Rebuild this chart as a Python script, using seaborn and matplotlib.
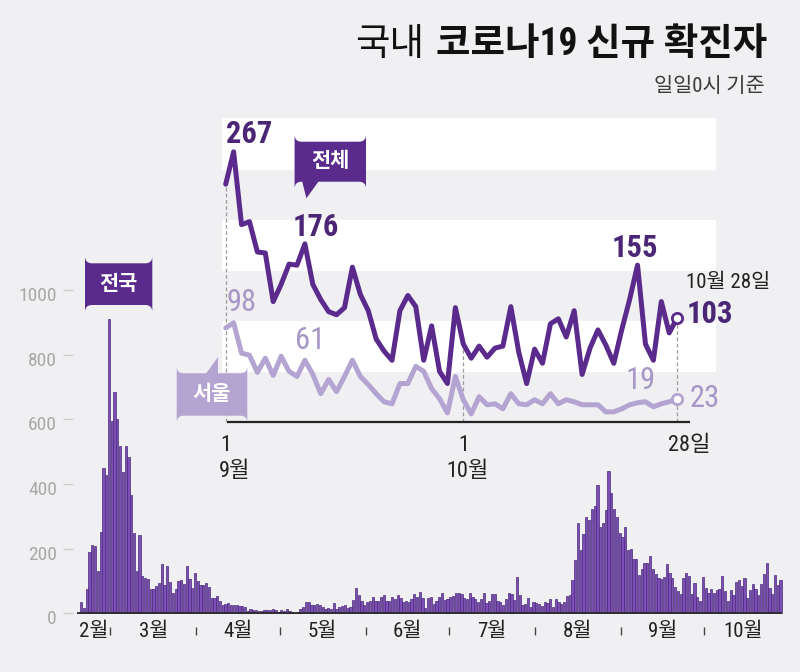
import matplotlib
matplotlib.use("Agg")
import numpy as np
import matplotlib.pyplot as plt
from matplotlib import font_manager as fm
from matplotlib.patches import FancyBboxPatch, Polygon
from matplotlib.transforms import Affine2D
import seaborn as sns

sns.set_style("white")

# narrow face for the digits if one is around, Hangul from Noto CJK
_installed = {f.name for f in fm.fontManager.ttflist}
_narrow = [n for n in ["Liberation Sans Narrow", "Roboto Condensed", "Archivo Narrow",
                       "PT Sans Narrow", "Arial Narrow"] if n in _installed][:1]
plt.rcParams["font.family"] = _narrow + ["Noto Sans CJK KR", "DejaVu Sans"]

# daily new confirmed cases (0시 기준), 2/18 ~ 10/28
feb = [1, 34, 16, 74, 190, 210, 207, 130, 253, 449, 427, 909]
mar = [595, 686, 600, 516, 438, 518, 483, 367, 248, 131, 242, 114, 110, 107, 76, 74,
       84, 93, 152, 87, 147, 98, 64, 76, 100, 104, 91, 146, 105, 78, 125]
apr = [101, 89, 86, 94, 81, 47, 47, 53, 39, 27, 30, 32, 25, 27, 27, 22, 22, 18, 8, 13,
       9, 11, 8, 6, 10, 10, 10, 14, 9, 4]
may = [9, 6, 13, 8, 3, 2, 4, 12, 18, 34, 35, 27, 26, 29, 27, 19, 13, 15, 13, 32, 12,
       20, 23, 25, 16, 19, 40, 79, 58, 39, 27]
jun = [35, 38, 49, 39, 39, 51, 57, 38, 38, 50, 45, 56, 48, 34, 37, 34, 43, 59, 49, 67,
       48, 17, 46, 51, 28, 39, 51, 62, 42, 43]
jul = [51, 54, 63, 63, 61, 48, 44, 63, 50, 45, 35, 44, 62, 33, 39, 61, 60, 39, 34, 26,
       45, 63, 59, 41, 113, 58, 25, 28, 48, 18, 36]
aug = [31, 30, 23, 34, 33, 43, 20, 43, 36, 28, 34, 54, 56, 103, 166, 279, 197, 246, 297,
       288, 324, 332, 397, 266, 280, 320, 441, 371, 323, 299, 248]
sep = [235, 267, 195, 198, 168, 167, 119, 136, 156, 155, 176, 136, 121, 109, 106, 113,
       153, 126, 110, 82, 70, 61, 110, 125, 114, 61, 95, 50, 38, 113]
oct_ = [77, 63, 75, 64, 73, 75, 114, 69, 38, 72, 58, 97, 102, 84, 110, 47, 73, 91, 76,
        58, 91, 121, 155, 77, 61, 119, 88, 103]

# Seoul, 9/1 ~ 10/28
seoul_sep = [93, 98, 68, 66, 49, 63, 46, 65, 50, 45, 61, 47, 28, 42, 30, 45, 61, 45, 37,
             28, 20, 18, 38, 38, 55, 50, 33, 23, 9, 45]
seoul_oct = [22, 8, 25, 17, 18, 13, 28, 18, 17, 22, 18, 28, 18, 22, 20, 17, 17, 17, 10,
             10, 13, 17, 19, 20, 15, 18, 20, 23]

months = [feb, mar, apr, may, jun, jul, aug, sep, oct_]
month_labels = ["2월", "3월", "4월", "5월", "6월", "7월", "8월", "9월", "10월"]
y_ticks = [0, 200, 400, 600, 800, 1000]

BG = "#f0f0f2"
BAR = "#7c4fb5"
BAR_EDGE = "#4c2a7a"
TOTAL = "#5a2b8c"
TOTAL_TXT = "#4b2676"
SEOUL = "#b4a4d1"
SEOUL_TXT = "#a697c6"
DARK = "#222222"

W, H = 800, 672
fig = plt.figure(figsize=(W / 100, H / 100), dpi=100, facecolor=BG)
PX = Affine2D().scale(1 / W, -1 / H).translate(0, 1) + fig.transFigure

# ---- main bar chart (whole figure, pixel-calibrated limits) ----
X0, DAY = 78.5, 2.775
Y0, UNIT = 613.3, 0.3233


def xi(px):
    return (px - X0) / DAY


def yv(py):
    return (Y0 - py) / UNIT


daily = np.concatenate([np.array(m) for m in months])
idx = np.arange(len(daily))

ax = fig.add_axes([0, 0, 1, 1])
sns.barplot(x=idx, y=daily, native_scale=True, color=BAR, edgecolor=BAR_EDGE,
            linewidth=0.5, width=0.8, saturation=1, ax=ax)
ax.set_xlim(xi(0), xi(W))
ax.set_ylim(yv(H), yv(0))
ax.axis("off")

ax.hlines(0, -0.6, len(daily) - 0.4, color="#2a2a2a", lw=1.3)
for v in y_ticks:
    ax.hlines(v, xi(62.7), xi(72.7), color="#cdcdcd", lw=1)
    ax.text(xi(57), v - 6 / UNIT, str(v), ha="right", va="center",
            color="#a9a9a9", fontsize=14)

bounds = np.cumsum([0] + [len(m) for m in months])
ax.vlines(bounds[1:-1] - 0.5, yv(635), yv(627), color="#444444", lw=1)
for k, lab in enumerate(month_labels):
    ax.text((bounds[k] + bounds[k + 1] - 1) / 2, yv(631), lab, ha="center",
            va="center", color=DARK, fontsize=15)

# ---- inset: September - October ----
total = np.array(sep + oct_)
seoul = np.array(seoul_sep + seoul_oct)
days = np.arange(len(total))
SEP1, DPX = 225.7, 7.92

ins = fig.add_axes([222 / W, 1 - 422 / H, (716 - 222) / W, (422 - 118.4) / H])
ins.set_xlim((222 - SEP1) / DPX, (716 - SEP1) / DPX)
ins.set_ylim(0, 300)
ins.patch.set_alpha(0)
ins.axis("off")
for lo in (50, 150, 250):
    ins.axhspan(lo, lo + 50, color="white", zorder=0)

last = len(total) - 1
ins.vlines([0, 30, last], 0, [total[0], total[30], total[last]], colors="#9c9c9c",
           linestyles=(0, (3, 2)), lw=0.9, zorder=1)
ins.hlines(0, 0.14, 58.6, color=DARK, lw=1.6, clip_on=False, zorder=2)

sns.lineplot(x=days, y=seoul, color=SEOUL, lw=3.6, ax=ins, zorder=3)
sns.lineplot(x=days, y=total, color=TOTAL, lw=3.6, ax=ins, zorder=4)
ins.scatter([last], [total[last]], s=55, facecolor="white", edgecolor=TOTAL, lw=2,
            zorder=6, clip_on=False)
ins.scatter([last], [seoul[last]], s=55, facecolor="white", edgecolor=SEOUL, lw=2,
            zorder=6, clip_on=False)
ins.set_xlabel("")
ins.set_ylabel("")

NUM = 22 if _narrow else 19


def note(i, series, text, dx, dy, color, weight="bold", ha="center", size=NUM):
    ins.annotate(text, (i, series[i]), xytext=(dx, dy), textcoords="offset points",
                 ha=ha, va="center", color=color, fontsize=size, fontweight=weight,
                 annotation_clip=False)


note(1, total, "267", 10.9, 12.8, TOTAL_TXT)
note(10, total, "176", 7.6, 12.5, TOTAL_TXT)
note(52, total, "155", -1.8, 12, TOTAL_TXT)
note(last, total, "103", 6.5, 2.7, TOTAL_TXT, ha="left")
note(last, total, "10월 28일", 6.5, 25.4, DARK, weight="normal", ha="left", size=15)
note(1, seoul, "98", 6, 14.6, SEOUL_TXT, weight="normal")
note(10, seoul, "61", 3.7, 14.3, SEOUL_TXT, weight="normal")
note(52, seoul, "19", 2.5, 15.7, SEOUL_TXT, weight="normal")
note(last, seoul, "23", 9.3, 0, SEOUL_TXT, weight="normal", ha="left")

for i, top, bottom, dx in [(0, "1", "9월", 6.7), (30, "1", "10월", 2.7), (last, "28일", None, 8.6)]:
    ins.annotate(top, (i, 0), xytext=(dx if bottom is None else 0, -16.6),
                 textcoords="offset points", ha="center", va="center", color=DARK,
                 fontsize=16, annotation_clip=False)
    if bottom:
        ins.annotate(bottom, (i, 0), xytext=(dx, -35.6), textcoords="offset points",
                     ha="center", va="center", color=DARK, fontsize=16,
                     annotation_clip=False)


# ---- callout boxes ----
def callout(x0, y0, x1, y1, text, color, pointer=None):
    box = FancyBboxPatch((x0, y1), x1 - x0, y0 - y1, boxstyle="round,pad=0,rounding_size=7",
                         transform=PX, facecolor=color, edgecolor="none", zorder=10)
    fig.add_artist(box)
    if pointer:
        fig.add_artist(Polygon(pointer, closed=True, transform=PX, facecolor=color,
                               edgecolor="none", zorder=10))
    fig.text((x0 + x1) / 2, (y0 + y1) / 2, text, transform=PX, ha="center", va="center",
             color="white", fontsize=15, fontweight="bold", zorder=11)


callout(85, 263.3, 152.3, 305, "전국", TOTAL)
callout(294.6, 141.7, 366, 181.7, "전체", TOTAL,
        pointer=[(301.8, 180), (319.6, 180), (306.4, 198.3)])
callout(176.7, 373.3, 247.3, 415.7, "서울", SEOUL,
        pointer=[(205, 374.5), (218.3, 374.5), (218.3, 356.7)])

# ---- title ----
t_bold = fig.text(767, 45, "코로나19 신규 확진자", transform=PX, ha="right", va="center",
                  fontsize=27, fontweight="bold", color="#111111")
fig.canvas.draw()
bb = t_bold.get_window_extent()
fig.text(bb.x0 - 12, 45, "국내", transform=PX, ha="right", va="center",
         fontsize=27, color="#111111")
fig.text(765, 86, "일일0시 기준", transform=PX, ha="right", va="center",
         fontsize=15, color="#3c3c3c")

fig.savefig("out.png", dpi=100, facecolor=BG)
